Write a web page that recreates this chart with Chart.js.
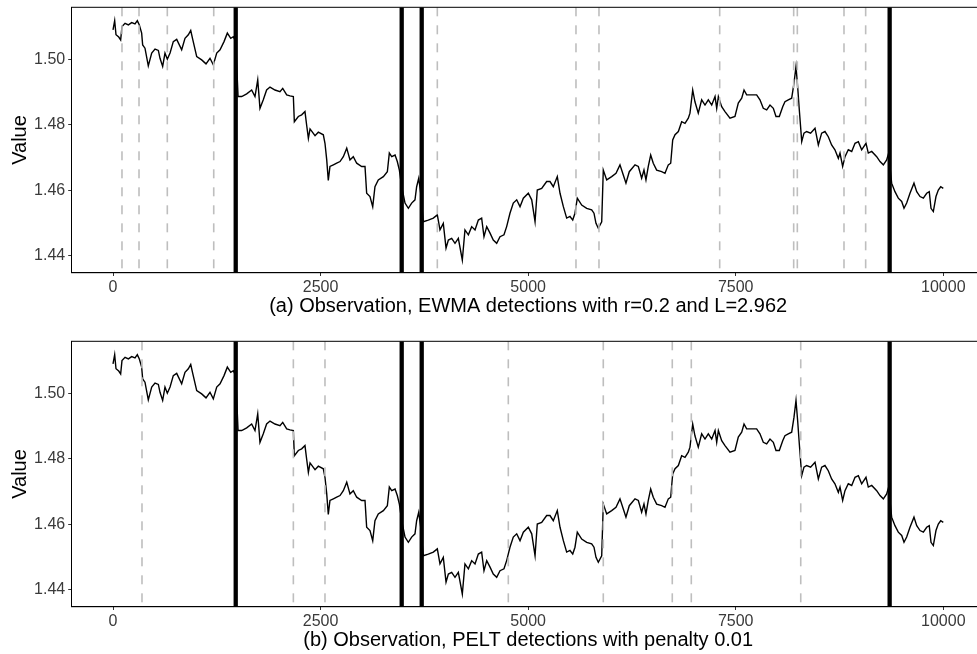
<!DOCTYPE html>
<html>
<head>
<meta charset="utf-8">
<script src="https://cdn.jsdelivr.net/npm/chart.js@4.4.1/dist/chart.umd.min.js"></script>
<style>
  html, body { margin: 0; padding: 0; overflow: hidden; background: #fff; width: 977px; height: 654px; }
  .panel { position: absolute; left: 0; width: 990px; height: 330px; }
  #p1 { top: 0; }
  #p2 { top: 334px; }
</style>
</head>
<body>
<div class="panel" id="p1"><canvas id="c1"></canvas></div>
<div class="panel" id="p2"><canvas id="c2"></canvas></div>
<script>
// Observation series: sample index and value
const obsIndex = [
  0, 20, 36, 69, 92, 108, 145, 185, 225, 265, 293, 317, 345, 357, 385, 425, 466, 506, 546, 566,
  598, 626, 654, 687, 726, 767, 827, 867, 907, 936, 960, 1008, 1068, 1120, 1168, 1208, 1249, 1289, 1337, 1377,
  1418, 1449, 1478, 1506, 1550, 1610, 1670, 1710, 1743, 1770, 1810, 1850, 1891, 1951, 2011, 2044, 2092, 2132, 2172, 2184,
  2232, 2272, 2312, 2332, 2353, 2373, 2433, 2473, 2533, 2553, 2574, 2593, 2613, 2654, 2694, 2734, 2774, 2815, 2854, 2894,
  2935, 2995, 3035, 3055, 3095, 3128, 3155, 3195, 3256, 3304, 3328, 3357, 3397, 3424, 3449, 3477, 3517, 3557, 3597, 3637,
  3657, 3682, 3706, 3737, 3797, 3858, 3906, 3938, 3978, 4011, 4039, 4079, 4119, 4159, 4207, 4239, 4280, 4320, 4360, 4400,
  4440, 4468, 4501, 4541, 4580, 4621, 4661, 4709, 4741, 4781, 4821, 4862, 4902, 4942, 5002, 5043, 5083, 5110, 5163, 5223,
  5263, 5303, 5351, 5384, 5424, 5464, 5504, 5537, 5564, 5592, 5645, 5705, 5765, 5793, 5817, 5845, 5886, 5905, 5946, 6006,
  6058, 6106, 6146, 6178, 6218, 6287, 6327, 6367, 6395, 6419, 6447, 6476, 6507, 6548, 6608, 6648, 6688, 6717, 6741, 6769,
  6809, 6849, 6889, 6929, 6949, 6982, 7009, 7049, 7090, 7130, 7170, 7211, 7251, 7271, 7291, 7331, 7371, 7431, 7491, 7531,
  7572, 7600, 7632, 7692, 7752, 7792, 7832, 7873, 7913, 7953, 7985, 8025, 8066, 8093, 8133, 8174, 8202, 8226, 8246, 8266,
  8295, 8322, 8354, 8402, 8455, 8495, 8535, 8575, 8615, 8655, 8695, 8736, 8756, 8788, 8816, 8856, 8897, 8937, 8977, 9017,
  9069, 9097, 9138, 9198, 9238, 9278, 9318, 9342, 9378, 9418, 9458, 9499, 9527, 9559, 9599, 9647, 9680, 9720, 9760, 9800,
  9831, 9852, 9880, 9912, 9940, 9969, 10000
];
const obsValue = [
  1.5091, 1.5119, 1.5076, 1.5069, 1.5060, 1.5101, 1.5111, 1.5106, 1.5113, 1.5109, 1.5119, 1.5106, 1.5081, 1.5045, 1.5035, 1.4981, 1.5020, 1.5032, 1.5028, 1.5004,
  1.4979, 1.5020, 1.5001, 1.5020, 1.5055, 1.5062, 1.5030, 1.5065, 1.5076, 1.5089, 1.5062, 1.5009, 1.4999, 1.4987, 1.5004, 1.4984, 1.5020, 1.5030, 1.5055, 1.5081,
  1.5065, 1.5070, 1.5055, 1.4887, 1.4887, 1.4895, 1.4907, 1.4887, 1.4938, 1.4851, 1.4877, 1.4907, 1.4916, 1.4907, 1.4902, 1.4912, 1.4892, 1.4889, 1.4887, 1.4810,
  1.4826, 1.4831, 1.4841, 1.4800, 1.4759, 1.4788, 1.4767, 1.4778, 1.4770, 1.4744, 1.4693, 1.4630, 1.4673, 1.4678, 1.4683, 1.4688, 1.4703, 1.4729, 1.4693, 1.4703,
  1.4683, 1.4673, 1.4673, 1.4591, 1.4581, 1.4550, 1.4611, 1.4632, 1.4642, 1.4657, 1.4714, 1.4703, 1.4708, 1.4688, 1.4662, 1.4611, 1.4561, 1.4545, 1.4561, 1.4571,
  1.4611, 1.4637, 1.4591, 1.4504, 1.4509, 1.4515, 1.4525, 1.4479, 1.4499, 1.4423, 1.4448, 1.4453, 1.4438, 1.4453, 1.4387, 1.4479, 1.4464, 1.4489, 1.4479, 1.4509,
  1.4515, 1.4458, 1.4489, 1.4469, 1.4448, 1.4438, 1.4458, 1.4464, 1.4489, 1.4530, 1.4561, 1.4571, 1.4550, 1.4576, 1.4591, 1.4571, 1.4504, 1.4601, 1.4606, 1.4627,
  1.4627, 1.4611, 1.4642, 1.4591, 1.4550, 1.4515, 1.4520, 1.4509, 1.4530, 1.4576, 1.4555, 1.4545, 1.4540, 1.4530, 1.4499, 1.4484, 1.4504, 1.4662, 1.4632, 1.4642,
  1.4652, 1.4678, 1.4647, 1.4622, 1.4657, 1.4678, 1.4673, 1.4637, 1.4662, 1.4632, 1.4673, 1.4708, 1.4683, 1.4662, 1.4657, 1.4652, 1.4678, 1.4683, 1.4754, 1.4770,
  1.4780, 1.4810, 1.4805, 1.4821, 1.4836, 1.4907, 1.4871, 1.4836, 1.4877, 1.4861, 1.4877, 1.4861, 1.4887, 1.4851, 1.4887, 1.4856, 1.4841, 1.4821, 1.4826, 1.4867,
  1.4882, 1.4907, 1.4892, 1.4892, 1.4892, 1.4877, 1.4851, 1.4846, 1.4861, 1.4851, 1.4826, 1.4826, 1.4856, 1.4871, 1.4877, 1.4882, 1.4928, 1.4979, 1.4917, 1.4846,
  1.4749, 1.4775, 1.4780, 1.4775, 1.4790, 1.4739, 1.4775, 1.4780, 1.4764, 1.4739, 1.4724, 1.4698, 1.4714, 1.4673, 1.4703, 1.4724, 1.4719, 1.4744, 1.4749, 1.4724,
  1.4744, 1.4714, 1.4719, 1.4703, 1.4688, 1.4678, 1.4693, 1.4714, 1.4622, 1.4596, 1.4576, 1.4566, 1.4545, 1.4561, 1.4591, 1.4622, 1.4596, 1.4581, 1.4576, 1.4591,
  1.4596, 1.4545, 1.4535, 1.4581, 1.4601, 1.4611, 1.4606
];

// Change points shared by both methods (solid) and method-specific detections (dashed)
const sharedChanges = [1478, 3477, 3718, 9354];
const ewmaDetections = [108, 313, 654, 1213, 3906, 5576, 5853, 7307, 8198, 8242, 8804, 9065];
const peltDetections = [349, 2172, 2553, 4761, 5905, 6736, 6965, 8283];

const xTicks = [0, 2500, 5000, 7500, 10000];
const yTicks = [1.44, 1.46, 1.48, 1.50];
const yLabel = 'Value';
const captionA = '(a) Observation, EWMA detections with r=0.2 and L=2.962';
const captionB = '(b) Observation, PELT detections with penalty 0.01';

const FONT = "'Liberation Sans', Arial, Helvetica, sans-serif";

// Vertical detection lines plus the panel frame
const detectionLines = {
  id: 'detectionLines',
  afterDatasetsDraw(chart, args, opts) {
    const { ctx, chartArea: a, scales: { x } } = chart;
    ctx.save();
    ctx.beginPath();
    ctx.rect(a.left, a.top, a.right - a.left, a.bottom - a.top);
    ctx.clip();
    ctx.strokeStyle = '#BEBEBE';
    ctx.lineWidth = 1.6;
    ctx.setLineDash([9, 9]);
    opts.dashed.forEach(v => {
      const px = x.getPixelForValue(v);
      ctx.beginPath();
      ctx.moveTo(px, a.top);
      ctx.lineTo(px, a.bottom);
      ctx.stroke();
    });
    ctx.setLineDash([]);
    ctx.strokeStyle = '#000';
    ctx.lineWidth = 4.3;
    opts.solid.forEach(v => {
      const px = x.getPixelForValue(v);
      ctx.beginPath();
      ctx.moveTo(px, a.top);
      ctx.lineTo(px, a.bottom);
      ctx.stroke();
    });
    ctx.restore();
    ctx.save();
    ctx.strokeStyle = '#000';
    ctx.lineWidth = 1;
    ctx.strokeRect(a.left, a.top, a.right - a.left, a.bottom - a.top);
    ctx.restore();
  }
};

function makePanel(canvasId, dashed, caption) {
  const points = obsIndex.map((v, i) => ({ x: v, y: obsValue[i] }));
  return new Chart(document.getElementById(canvasId), {
    type: 'line',
    data: {
      datasets: [{
        data: points,
        borderColor: '#000',
        borderWidth: 1.4,
        pointRadius: 0,
        tension: 0,
        fill: false
      }]
    },
    options: {
      responsive: true,
      maintainAspectRatio: false,
      animation: false,
      devicePixelRatio: 1,
      layout: { padding: { top: 7.3, right: 5.2, bottom: 0, left: 0 } },
      plugins: {
        legend: { display: false },
        tooltip: { enabled: false },
        detectionLines: { dashed: dashed, solid: sharedChanges }
      },
      scales: {
        x: {
          type: 'linear',
          min: -500,
          max: 10500,
          afterBuildTicks: s => { s.ticks = xTicks.map(v => ({ value: v })); },
          afterFit: s => { s.height = 57.3; s.paddingLeft = 0; s.paddingRight = 0; },
          grid: { drawOnChartArea: false, drawTicks: true, tickLength: 3.3, color: '#333', lineWidth: 1 },
          border: { display: true, color: '#000', width: 1 },
          ticks: {
            font: { family: FONT, size: 16 },
            color: '#3a3a3a',
            padding: 2,
            maxRotation: 0,
            autoSkip: false,
            callback: v => String(v)
          },
          title: {
            display: true,
            text: caption,
            font: { family: FONT, size: 20 },
            color: '#000',
            padding: { top: 0, bottom: 12 }
          }
        },
        y: {
          type: 'linear',
          min: 1.4348,
          max: 1.5160,
          afterBuildTicks: s => { s.ticks = yTicks.map(v => ({ value: v })); },
          afterFit: s => { s.width = 71.5; s.paddingTop = 0; s.paddingBottom = 0; },
          grid: { drawOnChartArea: false, drawTicks: true, tickLength: 3.3, color: '#333', lineWidth: 1 },
          border: { display: true, color: '#000', width: 1 },
          ticks: {
            font: { family: FONT, size: 16 },
            color: '#3a3a3a',
            padding: 3,
            autoSkip: false,
            callback: v => v.toFixed(2)
          },
          title: {
            display: true,
            text: yLabel,
            font: { family: FONT, size: 20 },
            color: '#000',
            padding: { top: 8, bottom: 0 }
          }
        }
      }
    },
    plugins: [detectionLines]
  });
}

makePanel('c1', ewmaDetections, captionA);
makePanel('c2', peltDetections, captionB);
</script>
</body>
</html>
